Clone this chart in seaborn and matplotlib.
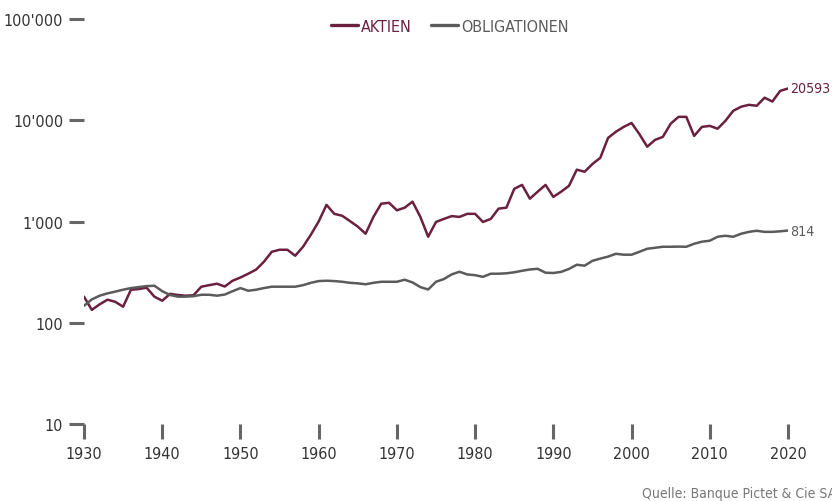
import numpy as np
import pandas as pd
import matplotlib
matplotlib.use("Agg")
import matplotlib.pyplot as plt
import matplotlib.ticker as mticker
from matplotlib import font_manager
import seaborn as sns

# values (index, log scale)
years = list(range(1930, 2021))
aktien = [181, 134, 152, 169, 161, 144, 212, 215, 222, 181,
          165, 193, 188, 185, 187, 227, 235, 243, 228, 260,
          280, 305, 335, 400, 502, 526, 526, 459, 563, 740,
          1000, 1460, 1190, 1140, 1010, 890, 757, 1110, 1500, 1530,
          1290, 1370, 1570, 1110, 707, 990, 1060, 1130, 1110, 1190,
          1190, 990, 1060, 1340, 1370, 2100, 2300, 1680, 1970, 2300,
          1750, 1970, 2250, 3250, 3100, 3700, 4250, 6700, 7700, 8600,
          9400, 7300, 5480, 6400, 6850, 9240, 10800, 10800, 7000, 8600,
          8800, 8250, 9870, 12400, 13600, 14200, 13900, 16700, 15300, 19500,
          20593]
obligationen = [147, 170, 185, 195, 203, 212, 220, 225, 230, 232,
                205, 188, 181, 181, 183, 189, 189, 185, 190, 205,
                220, 207, 212, 220, 227, 227, 227, 227, 235, 248,
                258, 260, 258, 254, 248, 245, 240, 248, 254, 254,
                254, 266, 250, 225, 213, 254, 270, 300, 319, 300,
                295, 284, 305, 305, 308, 315, 326, 336, 341, 312,
                310, 318, 340, 374, 366, 409, 430, 450, 480, 470,
                470, 502, 538, 550, 563, 563, 565, 563, 603, 632,
                646, 707, 723, 707, 757, 790, 810, 790, 790, 800,
                814]
series_names = ["AKTIEN", "OBLIGATIONEN"]
end_labels = ["20593", "814"]
y_ticks = [10, 100, 1000, 10000, 100000]
y_tick_labels = ["10", "100", "1'000", "10'000", "100'000"]
x_ticks = list(range(1930, 2030, 10))
source = "Quelle: Banque Pictet & Cie SA, Dezember 2019"

df = pd.DataFrame({
    "Jahr": years * 2,
    "Wert": aktien + obligationen,
    "Serie": [series_names[0]] * len(years) + [series_names[1]] * len(years),
})

sns.set_style("white")
# the original uses a condensed face
available = {f.name for f in font_manager.fontManager.ttflist}
if "Liberation Sans Narrow" in available:
    plt.rcParams["font.family"] = ["Liberation Sans Narrow", "DejaVu Sans"]
    stretch = "normal"
else:
    plt.rcParams["font.family"] = ["DejaVu Sans"]
    stretch = "condensed"

colors = {"AKTIEN": "#6b2040", "OBLIGATIONEN": "#5b5b5b"}
tick_grey = "#666666"
text_grey = "#333333"
fs = 11.5

fig = plt.figure(figsize=(8.32, 5.02), dpi=100)
ax = fig.add_axes([84 / 832, 1 - 425 / 502, (788 - 84) / 832, (425 - 20) / 502])

sns.lineplot(data=df, x="Jahr", y="Wert", hue="Serie", palette=colors,
             linewidth=1.8, ax=ax, legend=False)

ax.set_yscale("log")
ax.set_xlim(1930, 2020)
ax.set_ylim(10, 100000)
ax.set_yticks(y_ticks)
ax.set_yticklabels(y_tick_labels)
ax.yaxis.set_minor_locator(mticker.NullLocator())
ax.set_xticks(x_ticks)
ax.set_xticklabels([str(x) for x in x_ticks])
ax.set_xlabel("")
ax.set_ylabel("")
for s in ax.spines.values():
    s.set_visible(False)
ax.tick_params(axis="y", length=11, width=2.2, color=tick_grey, pad=4,
               labelsize=fs, labelcolor=text_grey, direction="out", left=True)
ax.tick_params(axis="x", length=10.5, width=2.2, color=tick_grey, pad=5,
               labelsize=fs, labelcolor=text_grey, direction="out", bottom=True)
for lab in ax.get_xticklabels() + ax.get_yticklabels():
    lab.set_fontstretch(stretch)

# legend
handles = [plt.Line2D([], [], color=colors[n], linewidth=2.4) for n in series_names]
leg = fig.legend(handles, series_names, loc="center", bbox_to_anchor=(450 / 832, 1 - 27 / 502),
                 ncol=2, frameon=False, handlelength=1.7, handletextpad=0.2,
                 columnspacing=1.2, prop={"size": fs, "stretch": stretch})
for txt, n in zip(leg.get_texts(), series_names):
    txt.set_color(colors[n])

# end labels
for vals, lab, n in zip([aktien, obligationen], end_labels, series_names):
    ax.annotate(lab, xy=(years[-1], vals[-1]), xytext=(1.5, 0), textcoords="offset points",
                va="center", ha="left", fontsize=10.2, color=colors[n],
                fontstretch=stretch, annotation_clip=False)

fig.text(642 / 832, 1 - 494 / 502, source, ha="left", va="center",
         fontsize=10, color="#777777", fontstretch=stretch)

fig.savefig("out.png", dpi=100)
